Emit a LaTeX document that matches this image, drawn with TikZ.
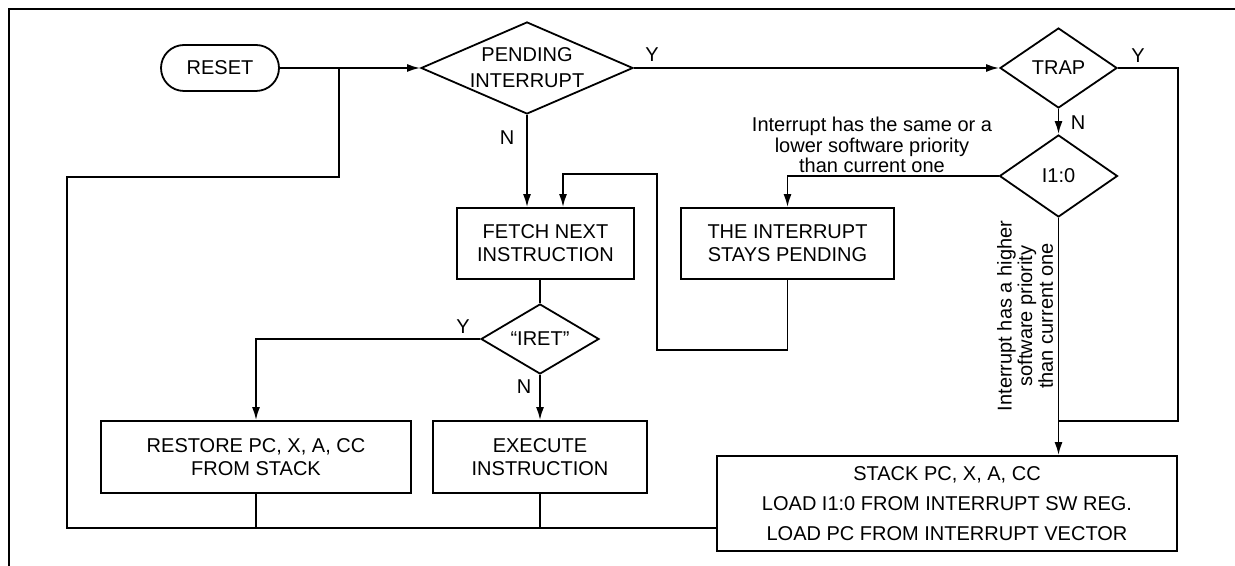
\documentclass[tikz,border=0pt]{standalone}
\usepackage{fontspec}
\setmainfont{Liberation Sans}
\usepackage{tikz}
\usetikzlibrary{positioning, arrows.meta, shapes.geometric}
\tikzset{
    term/.style={draw, rectangle, rounded corners=11.5pt, line width=0.9pt, minimum width=59pt, minimum height=23pt, inner sep=0pt, font=\fontsize{10}{12}\selectfont},
    proc/.style={draw, rectangle, line width=0.9pt, minimum height=35.5pt, inner sep=0pt, align=center, font=\fontsize{10}{11.5}\selectfont},
    deci/.style={draw, diamond, aspect=2.3, line width=0.9pt, inner sep=0pt, align=center, font=\fontsize{10}{13}\selectfont},
    conn/.style={-, line width=0.9pt},
    arrw/.style={-{Latex[length=6.5pt,width=4pt]}, line width=0.9pt},
    lbl/.style={inner sep=0pt, font=\fontsize{10}{12}\selectfont},
    note/.style={inner sep=0pt, align=center, font=\fontsize{10}{9}\selectfont},
}

\begin{document}
\begin{tikzpicture}[x=0.5pt, y=-0.5pt]
    \useasboundingbox (0,0) rectangle (1235,566);
    \draw[line width=1.3pt] (9,566) -- (9,9) -- (1235,9);

    \node[term] (reset) at (220,68) {RESET};
    \node[deci, minimum width=106pt, minimum height=46pt] (pend) at (527,68) {PENDING\\INTERRUPT};
    \node[deci, minimum width=58.5pt, minimum height=40pt] (trap) at (1058.5,68) {TRAP};
    \node[deci, minimum width=59pt, minimum height=41pt] (ilev) at (1058.5,176) {I1:0};
    \node[proc, minimum width=88.5pt] (fetch) at (545.5,243.5) {FETCH NEXT\\INSTRUCTION};
    \node[proc, minimum width=106.5pt] (stay) at (787.5,243.5) {THE INTERRUPT\\STAYS PENDING};
    \node[deci, minimum width=59pt, minimum height=35pt] (iret) at (540,339) {“IRET”};
    \node[proc, minimum width=155pt, minimum height=36pt] (restore) at (256,457) {RESTORE PC, X, A, CC\\FROM STACK};
    \node[proc, minimum width=107pt, minimum height=36pt] (exec) at (540,457) {EXECUTE\\INSTRUCTION};
    \node[proc, minimum width=230pt, minimum height=47.5pt, font=\fontsize{10}{15}\selectfont] (stack) at (947,503.5) {STACK PC, X, A, CC\\LOAD I1:0 FROM INTERRUPT SW REG.\\LOAD PC FROM INTERRUPT VECTOR};

    \node[lbl] (yp) at (652,55) {Y};
    \node[lbl] (np) at (507,138) {N};
    \node[lbl] (yt) at (1138,56) {Y};
    \node[lbl] (nt) at (1078,123) {N};
    \node[lbl] (yi) at (463,327) {Y};
    \node[lbl] (ni) at (524,387) {N};
    \node[note] (same) at (872,145) {Interrupt has the same or a\\lower software priority\\than current one};
    \node[note, rotate=90] (higher) at (1025,316) {Interrupt has a higher\\software priority\\than current one};

    \coordinate (back) at (563,174);
    \coordinate (join) at (1058.5,421);
    \coordinate (bot) at (67,528);
    \coordinate (top) at (339,177);

    \draw[arrw] (reset) -- (pend);
    \draw[arrw] (pend) -- (trap);
    \draw[arrw] (pend.south) -- (pend.south |- fetch.north);
    \draw[arrw] (trap) -- (ilev);
    \draw[arrw] (ilev.west) -| (stay.north);
    \draw[arrw] (stay.south) |- (657,350) |- (back) -- (back |- fetch.north);
    \draw[conn] (trap.east) -| (stack.east |- join) -- (join);
    \draw[arrw] (ilev.south) -- (ilev.south |- stack.north);
    \draw[conn] (iret.north |- fetch.south) -- (iret.north);
    \draw[arrw] (iret.west) -| (restore.north);
    \draw[arrw] (iret) -- (exec);
    \draw[conn] (restore.south) -- (restore.south |- bot);
    \draw[conn] (exec.south) -- (exec.south |- bot);
    \draw[conn] (stack.west |- bot) -- (bot) |- (top) -- (top |- reset.east);
\end{tikzpicture}
\end{document}
